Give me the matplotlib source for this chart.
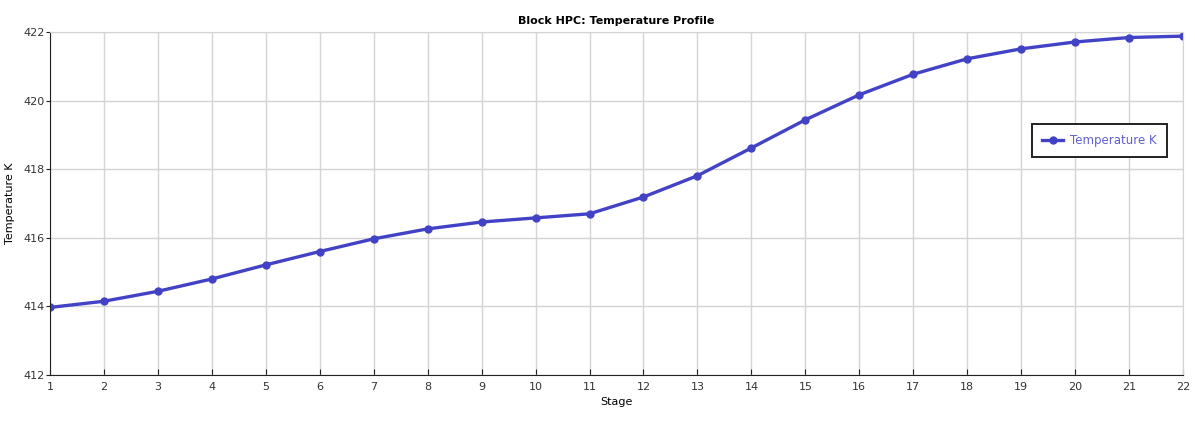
import matplotlib
matplotlib.use("Agg")
import matplotlib.pyplot as plt

# temperature profile along the HPC stages
stages = list(range(1, 23))
temperature = [413.97, 414.15, 414.44, 414.80, 415.21, 415.60, 415.97, 416.26,
               416.46, 416.58, 416.70, 417.19, 417.81, 418.62, 419.44, 420.17,
               420.77, 421.22, 421.51, 421.71, 421.84, 421.88]
yticks = [412, 414, 416, 418, 420, 422]

line_color = '#4242C6'

fig = plt.figure(figsize=(11.95, 4.23), dpi=100)
ax = fig.add_axes([0.0418, 0.1135, 0.9482, 0.8108])

ax.plot(stages, temperature, color=line_color, lw=2.4, marker='o', ms=5,
        label='Temperature K')

ax.set_xlim(1, 22)
ax.set_ylim(412, 422)
ax.set_xticks(stages)
ax.set_yticks(yticks)
ax.grid(True, color='#d4d4d4', lw=1)
ax.set_axisbelow(True)

for side in ('top', 'right'):
    ax.spines[side].set_color('#d4d4d4')
for side in ('left', 'bottom'):
    ax.spines[side].set_color('#222222')
ax.tick_params(axis='x', direction='in', length=4, labelsize=8, pad=5,
               color='#222222', labelcolor='#333333')
ax.tick_params(axis='y', direction='out', length=3, labelsize=8, pad=1,
               color='#222222', labelcolor='#333333')

ax.set_title('Block HPC: Temperature Profile', fontsize=8, fontweight='bold', pad=6)
ax.set_xlabel('Stage', fontsize=8, labelpad=4)
ax.set_ylabel('Temperature K', fontsize=8, labelpad=6)

leg = ax.legend(loc='center right', bbox_to_anchor=(0.991, 0.684), fontsize=8.5,
                fancybox=False, framealpha=1, edgecolor='#222222',
                handlelength=1.8, handletextpad=0.6, borderpad=0.85)
leg.get_frame().set_linewidth(1.4)
for t in leg.get_texts():
    t.set_color('#6060d0')

fig.savefig('out.png', dpi=100)
